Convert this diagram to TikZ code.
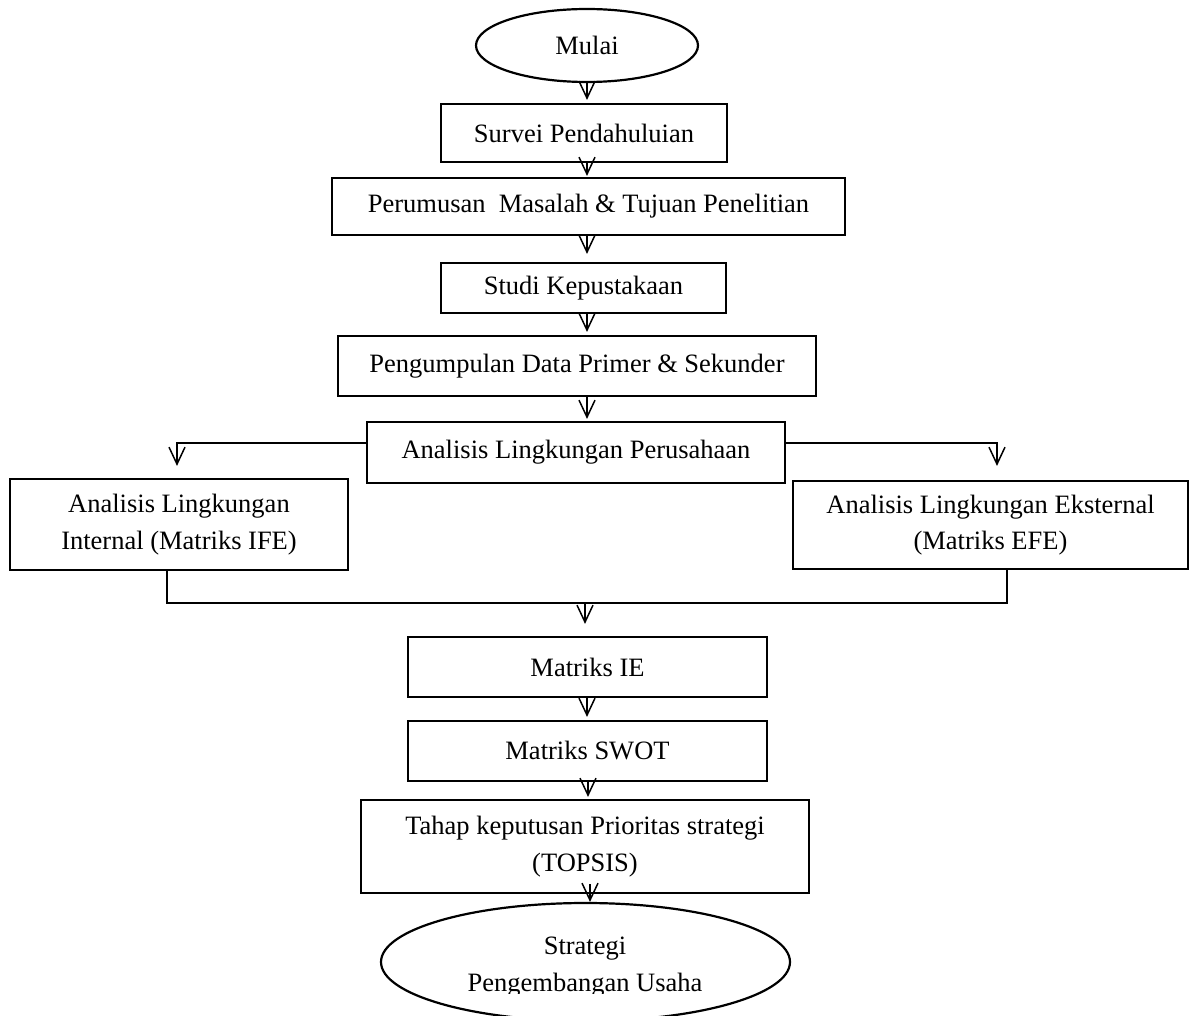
\documentclass[tikz,border=0pt]{standalone}
\usepackage{fontspec}
\setmainfont{Liberation Serif}
\usetikzlibrary{arrows.meta,shapes.geometric}
\begin{document}
\begin{tikzpicture}[x=1pt,y=-1pt,
  txt/.style={font=\fontsize{26.5}{36.5}\selectfont, align=center},
  box/.style={txt, draw, rectangle, line width=2.2pt, inner sep=0pt},
  oval/.style={txt, draw, ellipse, line width=2.2pt, inner sep=0pt},
  conn/.style={line width=1.5pt},
  arr/.style={conn, -{Straight Barb[length=17pt,width=16pt,line width=1.5pt]}}]
\useasboundingbox (0,0) rectangle (1189,1016);
\fill[white] (0,0) rectangle (1189,1016);

\node[oval, minimum width=222pt, minimum height=73pt] (mulai) at (587,45.5) {Mulai};
\node[box, minimum width=286pt, minimum height=58pt] (surv) at (584,133) {Survei Pendahuluian};
\node[box, minimum width=513pt, minimum height=57pt] (perum) at (588.5,206.5) {Perumusan\ \ Masalah \& Tujuan Penelitian};
\node[box, minimum width=285pt, minimum height=50pt] (studi) at (583.5,288) {Studi Kepustakaan};
\node[box, minimum width=478pt, minimum height=60pt] (peng) at (577,366) {Pengumpulan Data Primer \& Sekunder};
\node[box, minimum width=418pt, minimum height=61pt] (perus) at (576,452.5) {Analisis Lingkungan Perusahaan};
\node[box, minimum width=338pt, minimum height=91pt] (intern) at (179,524.5) {Analisis Lingkungan\\Internal (Matriks IFE)};
\node[box, minimum width=395pt, minimum height=88pt] (ext) at (990.5,525) {Analisis Lingkungan Eksternal\\(Matriks EFE)};
\node[box, minimum width=359pt, minimum height=60pt] (ie) at (587.5,667) {Matriks IE};
\node[box, minimum width=359pt, minimum height=60pt] (swot) at (587.5,751) {Matriks SWOT};
\node[box, minimum width=448pt, minimum height=93pt] (topsis) at (585,846.5) {Tahap keputusan Prioritas strategi\\(TOPSIS)};
\node[oval, minimum width=409pt, minimum height=118pt] (strat) at (585.5,962) {};
\begin{scope}
  \clip (0,0) rectangle (1189,993);
  \node[txt, inner sep=0pt] (strattext) at (585,967) {Strategi\\Pengembangan Usaha};
\end{scope}

\coordinate (col) at (587,0);
\coordinate (merge) at (585,603);

\draw[arr, shorten >=3pt] (col |- mulai.south) -- (col |- surv.north);
\draw[arr, shorten >=1pt] (col |- surv.south) -- (col |- perum.north);
\draw[arr, shorten >=8pt] (col |- perum.south) -- (col |- studi.north);
\draw[arr, shorten >=3pt] (col |- studi.south) -- (col |- peng.north);
\draw[arr, shorten >=2pt] (col |- peng.south) -- (col |- perus.north);

\draw[arr, shorten >=12pt] ([yshift=9.5pt]perus.west) -| ([xshift=-2pt]intern.north);
\draw[arr, shorten >=14pt] ([yshift=9.5pt]perus.east) -| ([xshift=6.5pt]ext.north);

\draw[conn] ([xshift=-12pt]intern.south) |- (merge) -| ([xshift=16.5pt]ext.south);
\draw[arr, shorten >=12pt] (merge) -- (merge |- ie.north);

\draw[arr, shorten >=3pt] (col |- ie.south) -- (col |- swot.north);
\draw[arr, shorten >=2pt] ([xshift=1pt]col |- swot.south) -- ([xshift=1pt]col |- topsis.north);
\draw[arr] ([xshift=3pt,yshift=10pt]col |- topsis.south) -- ([xshift=3pt]col |- strat.north);
\end{tikzpicture}
\end{document}
